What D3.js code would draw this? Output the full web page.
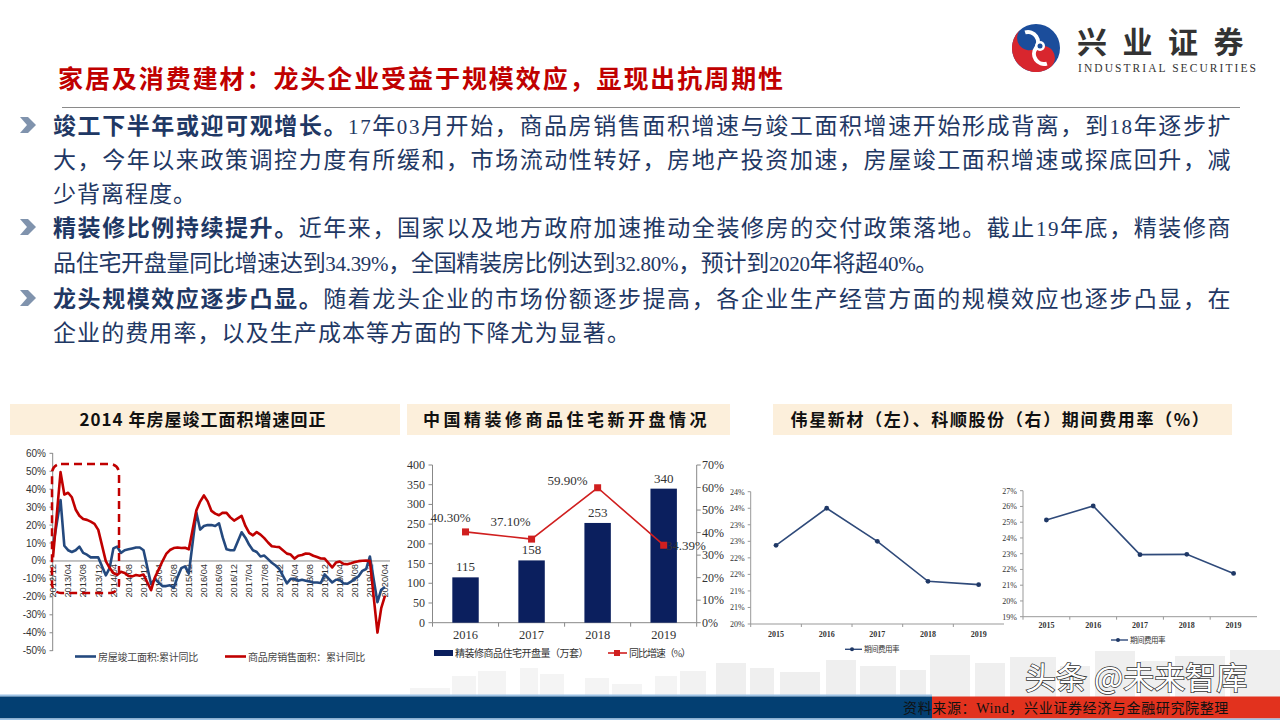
<!DOCTYPE html>
<html><head><meta charset="utf-8">
<script src="https://cdn.jsdelivr.net/npm/d3@7"></script>
<style>body{margin:0;background:#fff}svg{display:block}</style>
</head><body>
<svg id="c" width="1280" height="720"></svg>
<script>
// ---------------- DATA ----------------
const pageTitle = "家居及消费建材：龙头企业受益于规模效应，显现出抗周期性";
const bulletLines = [
  [["竣工下半年或迎可观增长。", true], ["17年03月开始，商品房销售面积增速与竣工面积增速开始形成背离，到18年逐步扩", false]],
  [["大，今年以来政策调控力度有所缓和，市场流动性转好，房地产投资加速，房屋竣工面积增速或探底回升，减", false]],
  [["少背离程度。", false]],
  [["精装修比例持续提升。", true], ["近年来，国家以及地方政府加速推动全装修房的交付政策落地。截止19年底，精装修商", false]],
  [["品住宅开盘量同比增速达到34.39%，全国精装房比例达到32.80%，预计到2020年将超40%。", false]],
  [["龙头规模效应逐步凸显。", true], ["随着龙头企业的市场份额逐步提高，各企业生产经营方面的规模效应也逐步凸显，在", false]],
  [["企业的费用率，以及生产成本等方面的下降尤为显著。", false]]
];
const chartTitles = ["2014 年房屋竣工面积增速回正", "中国精装修商品住宅新开盘情况", "伟星新材（左）、科顺股份（右）期间费用率（%）"];

// Chart 1: monthly cumulative YoY (%), index 0 = 2012/12 ... 88 = 2020/04 (January not published)
const monthTickLabels = ["2012/12","2013/04","2013/08","2013/12","2014/04","2014/08","2014/12","2015/04","2015/08","2015/12","2016/04","2016/08","2016/12","2017/04","2017/08","2017/12","2018/04","2018/08","2018/12","2019/04","2019/08","2019/12","2020/04"];
const completionYoY = [
  8,
  null,34,8.5,6,5,6,8,4.5,3.5,2,2,2,
  null,-8,-4,7,8,4.5,6,6.5,7,7.5,7.5,6,
  null,-13,-10,-12,-14,-14,-13.5,-15,-9,-4,-3,-7,
  null,27,17.5,19.5,20,20,19.5,21,13,6.5,6,6,
  null,16,13,9,6,5,2.5,3,1,-1,-2.5,-4.5,
  null,-12.5,-10,-10,-11,-10.5,-11,-11.5,-12,-12,-12.3,-7.5,
  null,-12,-10.5,-10.5,-12.5,-12.7,-11.5,-10,-8.5,-5.5,-4.5,2.5,
  null,-23,-16,-14.5
];
const salesYoY = [
  2,
  null,49.5,37,38,35.5,28.7,25.2,23.4,22.9,21.9,20.7,17.3,
  null,-0.1,-3.8,-6.7,-7.8,-6,-6.7,-8.3,-8.6,-7.8,-8.2,-7.6,
  null,-16.3,-9.2,-4.8,-0.2,3.9,6.1,7.2,7.5,7.2,7.4,6.5,
  null,28.2,33.1,36.5,33.2,27.9,26.4,25.5,26.9,26.8,24.3,22.5,
  null,25.1,19.5,15.7,14.3,16.1,14.7,12.7,10.3,8.2,7.9,7.7,
  null,4.1,3.6,1.3,2.9,3.3,4.2,4.0,2.9,2.2,1.4,1.3,
  null,-3.6,-0.9,-0.3,-1.6,-1.8,-1.3,-0.6,-0.1,0.1,0.2,-0.1,
  null,-39.9,-26.3,-19.3
];
const chart1Legend = ["房屋竣工面积:累计同比", "商品房销售面积：累计同比"];

// Chart 2
const decoYears = ["2016","2017","2018","2019"];
const decoUnits = [115,158,253,340];
const decoGrowth = [40.30,37.10,59.90,34.39];
const chart2Legend = ["精装修商品住宅开盘量（万套）", "同比增速（%）"];

// Chart 3 / 4
const feeYears = ["2015","2016","2017","2018","2019"];
const weixingFee = [22.38,23.5,22.5,21.29,21.19];
const weixingTicks = [20,20.5,21,21.5,22,22.5,23,23.5,24];
const weixingTickLabels = ["20%","21%","21%","22%","22%","23%","23%","24%","24%"];
const keshunFee = [25.14,26.03,22.94,22.96,21.75];
const keshunTicks = [19,20,21,22,23,24,25,26,27];
const keshunTickLabels = ["19%","20%","21%","22%","23%","24%","25%","26%","27%"];
const feeLegend = "期间费用率";
const sourceNote = "资料来源：Wind，兴业证券经济与金融研究院整理";
const watermark = "头条 @未来智库";

// ---------------- DRAW ----------------
const svg = d3.select("#c");
const CJK = "'Noto Sans CJK SC', sans-serif";
const SERIF = "'Liberation Serif', 'Noto Sans CJK SC', serif";
const SANS = "'Liberation Sans', 'Noto Sans CJK SC', sans-serif";
function fit(sel, w){
  sel.each(function(){
    const n = this.getNumberOfChars(), L = this.getComputedTextLength();
    if (n > 0) d3.select(this).attr("letter-spacing", (w - L) / n);
  });
}

// footer skyline (decor)
const sky = svg.append("g");
const blds = [[410,688,40,"#f4f4f4"],[452,676,24,"#f4f4f4"],[478,671,28,"#f4f4f4"],[520,668,18,"#f4f4f4"],[540,674,24,"#f4f4f4"],[585,678,24,"#f4f4f4"],[612,684,30,"#f4f4f4"],[655,676,22,"#f4f4f4"],[680,671,26,"#f2f2f2"],[716,663,30,"#efefef"],[750,668,24,"#efefef"],[780,672,40,"#efefef"],[826,660,30,"#efefef"],[860,666,36,"#efefef"],[900,670,26,"#efefef"],[930,655,40,"#efefef"],[975,663,30,"#efefef"],[1010,657,46,"#efefef"],[1060,666,30,"#efefef"],[1095,651,40,"#efefef"],[1140,661,30,"#efefef"],[1175,656,50,"#efefef"],[1230,650,50,"#efefef"]];
blds.forEach(b => sky.append("rect").attr("x",b[0]).attr("y",b[1]).attr("width",b[2]).attr("height",697-b[1]).attr("fill",b[3]));

// bottom band
svg.append("rect").attr("x",0).attr("y",694.5).attr("width",932).attr("height",2).attr("fill","#9cc2e5");
svg.append("rect").attr("x",0).attr("y",696.5).attr("width",932).attr("height",22).attr("fill","#033f72");
svg.append("rect").attr("x",932).attr("y",696.5).attr("width",348).attr("height",22).attr("fill","#e2321e");
svg.append("rect").attr("x",0).attr("y",718.5).attr("width",1280).attr("height",1.5).attr("fill","#9cc2e5");

// logo
const lg = svg.append("g");
const cx = 1036, cy = 48, R = 24;
lg.append("circle").attr("cx",cx).attr("cy",cy).attr("r",R).attr("fill","#1b4d9b");
lg.append("path").attr("fill","#d8262e")
  .attr("d",`M${cx},${cy-R} A${R},${R} 0 0,0 ${cx},${cy+R} A${R/2},${R/2} 0 0,0 ${cx},${cy} A${R/2},${R/2} 0 0,1 ${cx},${cy-R} Z`)
  .attr("transform",`rotate(-35,${cx},${cy})`);
lg.append("path").attr("fill","none").attr("stroke","#fff").attr("stroke-width",4)
  .attr("d",`M${cx},${cy-R+5} A${R/2-2},${R/2-2} 0 0,1 ${cx},${cy} A${R/2-2},${R/2-2} 0 0,0 ${cx},${cy+R-5}`)
  .attr("transform",`rotate(-35,${cx},${cy})`);
lg.append("circle").attr("cx",cx+4).attr("cy",cy-2).attr("r",5).attr("fill","#fff");
lg.append("circle").attr("cx",cx+4).attr("cy",cy-2).attr("r",2.5).attr("fill","#1b4d9b");
const lt = svg.append("text").attr("x",1077).attr("y",53).attr("font-family",CJK).attr("font-weight",700)
  .attr("font-size",30).attr("fill","#333").text("兴业证券");
fit(lt,182);
const le = svg.append("text").attr("x",1078).attr("y",72).attr("font-family","'Liberation Serif', serif")
  .attr("font-size",11.5).attr("fill","#333").text("INDUSTRIAL SECURITIES");
fit(le,180);

// title
const tt = svg.append("text").attr("x",58).attr("y",88).attr("font-family",CJK).attr("font-weight",700)
  .attr("font-size",25).attr("fill","#c00000").text(pageTitle);
fit(tt,727);
svg.append("line").attr("x1",62).attr("x2",1240).attr("y1",107.5).attr("y2",107.5).attr("stroke","#8a8a8a").attr("stroke-width",1);

// bullets
const lineCenters = [125,159,193,227,262,298,332];
const lineWidths = [1179,1179,144,1179,885,1179,578];
[125,227,298].forEach(y => {
  svg.append("path").attr("fill","#8093ad")
    .attr("d",`M20,${y-8} L28,${y-8} L36,${y} L28,${y+8} L20,${y+8} L27,${y} Z`);
});
bulletLines.forEach((parts,i) => {
  const t = svg.append("text").attr("x",53).attr("y",lineCenters[i]+8.5)
    .attr("font-size",23).attr("fill","#1f3864").attr("font-family",SERIF);
  parts.forEach(p => {
    if (p[1]) {
      t.append("tspan").text(p[0]).attr("font-family",CJK).attr("font-weight",700);
    } else {
      p[0].split(/([0-9.%]+)/).filter(s => s.length).forEach(s => {
        const ts = t.append("tspan").text(s);
        if (/^[0-9.%]+$/.test(s)) ts.attr("font-size",21);
      });
    }
  });
  fit(t, lineWidths[i]);
});

// chart title boxes
const boxes = [[10,400],[407,730],[773,1232]];
const titleW = [247,287,420];
boxes.forEach((b,i) => {
  svg.append("rect").attr("x",b[0]).attr("y",404).attr("width",b[1]-b[0]).attr("height",31).attr("fill","#fcefdb");
  const t = svg.append("text").attr("x",(b[0]+b[1])/2 - 2).attr("y",426).attr("text-anchor","middle")
    .attr("font-family",CJK).attr("font-weight",700).attr("font-size",17).attr("fill","#111").text(chartTitles[i]);
  fit(t,titleW[i]);
});

// ---------- Chart 1 ----------
{
  const g = svg.append("g");
  const x = d3.scaleLinear().domain([0,88]).range([53,385]);
  const y = d3.scaleLinear().domain([-50,60]).range([650.7,453.3]);
  const yTicks = d3.range(-50,61,10);
  g.append("line").attr("x1",52.7).attr("x2",52.7).attr("y1",453).attr("y2",651).attr("stroke","#888");
  yTicks.forEach(v => {
    g.append("line").attr("x1",49.5).attr("x2",52.7).attr("y1",y(v)).attr("y2",y(v)).attr("stroke","#888");
    g.append("text").attr("x",46).attr("y",y(v)+3.5).attr("text-anchor","end").attr("font-family",SANS)
      .attr("font-size",10).attr("fill","#333").text(v + "%");
  });
  g.append("line").attr("x1",52.7).attr("x2",390).attr("y1",y(0)).attr("y2",y(0)).attr("stroke","#888");
  monthTickLabels.forEach((lab,i) => {
    const xi = x(i*4);
    g.append("text").attr("transform",`translate(${xi+3.3},${y(0)+3}) rotate(-90)`).attr("text-anchor","end")
      .attr("font-family",SANS).attr("font-size",9.3).attr("fill","#333").text(lab);
  });
  const mk = arr => arr.map((v,i) => ({i, v})).filter(d => d.v !== null);
  const line = d3.line().x(d => x(d.i)).y(d => y(d.v));
  g.append("path").attr("d",line(mk(completionYoY))).attr("fill","none").attr("stroke","#24497e").attr("stroke-width",2.6).attr("stroke-linejoin","round");
  g.append("path").attr("d",line(mk(salesYoY))).attr("fill","none").attr("stroke","#c00000").attr("stroke-width",2.6).attr("stroke-linejoin","round");
  // highlight box
  g.append("rect").attr("x",x(0)-1).attr("y",464).attr("width",x(17.5)-x(0)+1).attr("height",129).attr("rx",9)
    .attr("fill","none").attr("stroke","#c00000").attr("stroke-width",2.5).attr("stroke-dasharray","8,5");
  // legend
  g.append("line").attr("x1",75).attr("x2",96).attr("y1",656.5).attr("y2",656.5).attr("stroke","#24497e").attr("stroke-width",2.6);
  const l1 = g.append("text").attr("x",98).attr("y",660.5).attr("font-family",CJK).attr("font-size",10).attr("fill","#444").text(chart1Legend[0]);
  fit(l1,100);
  g.append("line").attr("x1",225).attr("x2",246).attr("y1",656.5).attr("y2",656.5).attr("stroke","#c00000").attr("stroke-width",2.6);
  const l2 = g.append("text").attr("x",248).attr("y",660.5).attr("font-family",CJK).attr("font-size",10).attr("fill","#444").text(chart1Legend[1]);
  fit(l2,117);
}

// ---------- Chart 2 ----------
{
  const g = svg.append("g");
  const x = d3.scaleBand().domain(decoYears).range([432.5,696.7]).paddingInner(0.6).paddingOuter(0.3);
  const yL = d3.scaleLinear().domain([0,400]).range([622.7,465]);
  const yR = d3.scaleLinear().domain([0,70]).range([622.7,465]);
  g.append("line").attr("x1",432.5).attr("x2",432.5).attr("y1",465).attr("y2",622.7).attr("stroke","#888");
  g.append("line").attr("x1",696.7).attr("x2",696.7).attr("y1",465).attr("y2",622.7).attr("stroke","#888");
  g.append("line").attr("x1",432.5).attr("x2",696.7).attr("y1",622.7).attr("y2",622.7).attr("stroke","#888");
  d3.range(0,401,50).forEach(v => {
    g.append("line").attr("x1",428.5).attr("x2",432.5).attr("y1",yL(v)).attr("y2",yL(v)).attr("stroke","#888");
    g.append("text").attr("x",425).attr("y",yL(v)+4).attr("text-anchor","end").attr("font-family",SERIF)
      .attr("font-size",12).attr("fill","#333").text(v);
  });
  d3.range(0,71,10).forEach(v => {
    g.append("line").attr("x1",696.7).attr("x2",700.7).attr("y1",yR(v)).attr("y2",yR(v)).attr("stroke","#888");
    g.append("text").attr("x",702).attr("y",yR(v)+4).attr("font-family",SERIF)
      .attr("font-size",12).attr("fill","#333").text(v + "%");
  });
  d3.range(0,5).forEach(k => {
    const xx = 432.5 + k*(696.7-432.5)/4;
    g.append("line").attr("x1",xx).attr("x2",xx).attr("y1",622.7).attr("y2",626.7).attr("stroke","#888");
  });
  decoYears.forEach((yr,i) => {
    g.append("text").attr("x",x(yr)+x.bandwidth()/2).attr("y",638.5).attr("text-anchor","middle")
      .attr("font-family",SERIF).attr("font-size",12.5).attr("fill","#333").text(yr);
  });
  g.selectAll("rect.bar").data(decoUnits).join("rect").attr("class","bar")
    .attr("x",(d,i) => x(decoYears[i])).attr("width",x.bandwidth())
    .attr("y",d => yL(d)).attr("height",d => yL(0)-yL(d)).attr("fill","#0b1f5e");
  decoUnits.forEach((d,i) => {
    g.append("text").attr("x",x(decoYears[i])+x.bandwidth()/2).attr("y",yL(d)-6).attr("text-anchor","middle")
      .attr("font-family",SERIF).attr("font-size",13).attr("fill","#333").text(d);
  });
  const cxs = decoYears.map(yr => x(yr)+x.bandwidth()/2);
  const line = d3.line().x((d,i) => cxs[i]).y(d => yR(d));
  g.append("path").attr("d",line(decoGrowth)).attr("fill","none").attr("stroke","#d01f1f").attr("stroke-width",1.6);
  decoGrowth.forEach((d,i) => {
    g.append("rect").attr("x",cxs[i]-3.5).attr("y",yR(d)-3.5).attr("width",7).attr("height",7).attr("fill","#d01f1f");
  });
  const lblOff = [[-15,-10],[-21,-13],[-30,-3],[22,5]];
  decoGrowth.forEach((d,i) => {
    g.append("text").attr("x",cxs[i]+lblOff[i][0]).attr("y",yR(d)+lblOff[i][1]).attr("text-anchor","middle")
      .attr("font-family",SERIF).attr("font-size",13).attr("fill","#333").text(d.toFixed(2) + "%");
  });
  // legend
  g.append("rect").attr("x",434).attr("y",650).attr("width",19).attr("height",6).attr("fill","#0b1f5e");
  const l1 = g.append("text").attr("x",455).attr("y",657).attr("font-family",CJK).attr("font-size",10).attr("fill","#333").text(chart2Legend[0]);
  fit(l1,133);
  g.append("line").attr("x1",608).attr("x2",627).attr("y1",653).attr("y2",653).attr("stroke","#d01f1f").attr("stroke-width",1.6);
  g.append("rect").attr("x",614).attr("y",650).attr("width",6).attr("height",6).attr("fill","#d01f1f");
  const l2 = g.append("text").attr("x",629).attr("y",657).attr("font-family",SERIF).attr("font-size",10).attr("fill","#333").text(chart2Legend[1]);
  fit(l2,61);
}

// ---------- Chart 3 & 4 ----------
function feeChart(vals, ticks, tickLabels, x0, x1, yTop, yBot, xLabY, legX, legY) {
  const g = svg.append("g");
  const x = d3.scaleBand().domain(feeYears).range([x0,x1]);
  const y = d3.scaleLinear().domain([ticks[0], ticks[ticks.length-1]]).range([yBot,yTop]);
  g.append("line").attr("x1",x0).attr("x2",x0).attr("y1",yTop).attr("y2",yBot).attr("stroke","#999");
  g.append("line").attr("x1",x0).attr("x2",x1).attr("y1",yBot).attr("y2",yBot).attr("stroke","#999");
  ticks.forEach((v,i) => {
    g.append("line").attr("x1",x0-3).attr("x2",x0).attr("y1",y(v)).attr("y2",y(v)).attr("stroke","#999");
    g.append("text").attr("x",x0-6).attr("y",y(v)+3).attr("text-anchor","end").attr("font-family",SERIF)
      .attr("font-size",8).attr("fill","#333").text(tickLabels[i]);
  });
  feeYears.forEach((yr,i) => {
    g.append("line").attr("x1",x(yr)).attr("x2",x(yr)).attr("y1",yBot).attr("y2",yBot+3).attr("stroke","#999");
    g.append("text").attr("x",x(yr)+x.bandwidth()/2).attr("y",xLabY).attr("text-anchor","middle")
      .attr("font-family",SERIF).attr("font-weight",700).attr("font-size",8).attr("fill","#333").text(yr);
  });
  const line = d3.line().x((d,i) => x(feeYears[i])+x.bandwidth()/2).y(d => y(d));
  g.append("path").attr("d",line(vals)).attr("fill","none").attr("stroke","#2f4a7a").attr("stroke-width",1.6);
  vals.forEach((d,i) => {
    g.append("circle").attr("cx",x(feeYears[i])+x.bandwidth()/2).attr("cy",y(d)).attr("r",2.4).attr("fill","#1f3866");
  });
  g.append("line").attr("x1",legX).attr("x2",legX+17).attr("y1",legY).attr("y2",legY).attr("stroke","#2f4a7a").attr("stroke-width",1.4);
  g.append("circle").attr("cx",legX+7).attr("cy",legY).attr("r",2).attr("fill","#1f3866");
  const lt = g.append("text").attr("x",legX+19).attr("y",legY+3).attr("font-family",CJK).attr("font-size",7.5).attr("fill","#333").text(feeLegend);
  fit(lt,35);
}
feeChart(weixingFee, weixingTicks, weixingTickLabels, 750.7, 1004, 491.7, 624, 637, 845, 649.3);
feeChart(keshunFee, keshunTicks, keshunTickLabels, 1023, 1257, 490.7, 616.7, 628, 1111, 640);

// source + watermark
svg.append("text").attr("x",1025).attr("y",689).attr("font-family",CJK).attr("font-size",31)
  .attr("fill","#fff").attr("stroke","#333").attr("stroke-width",1.5).attr("paint-order","stroke")
  .text(watermark);
const src = svg.append("text").attr("x",903).attr("y",713).attr("font-family",SERIF).attr("font-size",14)
  .attr("fill","#111").text(sourceNote);
fit(src,326);
</script>
</body></html>
